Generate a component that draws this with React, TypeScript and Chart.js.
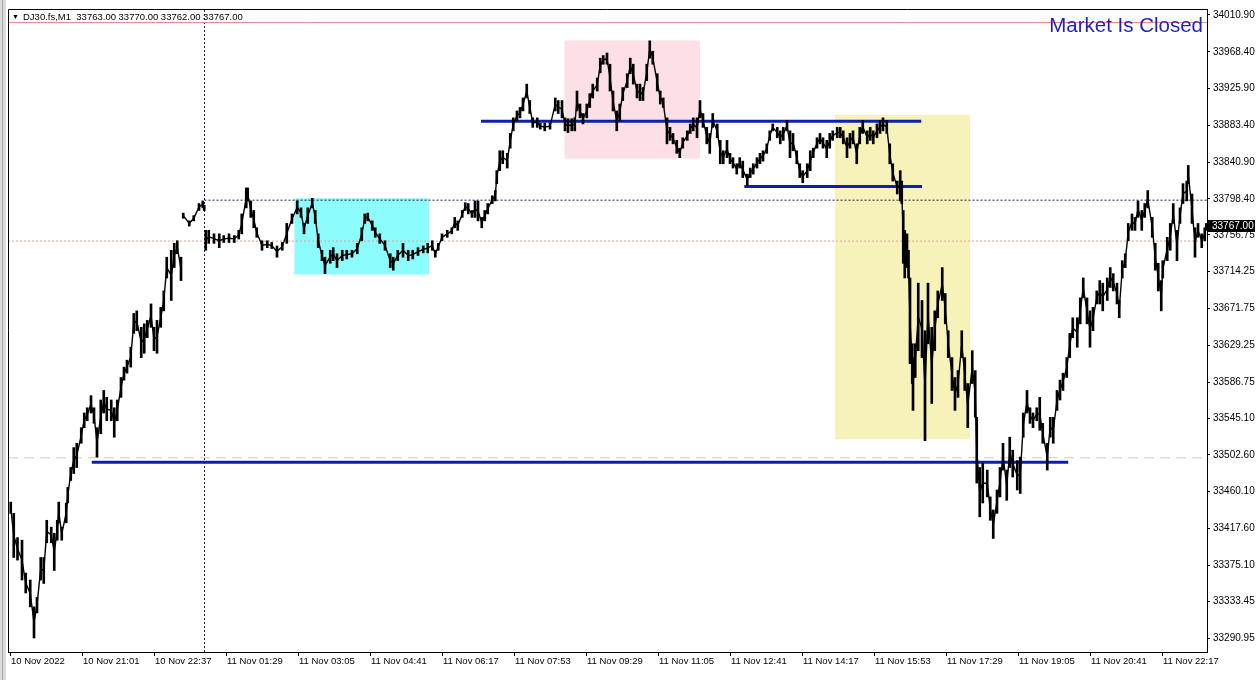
import React, { useEffect, useRef } from "react";
import { Chart, registerables } from "chart.js";

Chart.register(...registerables);

const W = 1259;
const H = 680;

// ---- header / text ----
const symbolLine = "DJ30.fs,M1  33763.00 33770.00 33762.00 33767.00";
const statusText = "Market Is Closed";
const lastPrice = 33767.0;

// ---- axes ----
const xTickBars = [0, 96, 192, 288, 384, 480, 576, 672, 768, 864, 960, 1056, 1152, 1248, 1344, 1440, 1536];
const xTickLabels = [
  "10 Nov 2022", "10 Nov 21:01", "10 Nov 22:37", "11 Nov 01:29", "11 Nov 03:05", "11 Nov 04:41",
  "11 Nov 06:17", "11 Nov 07:53", "11 Nov 09:29", "11 Nov 11:05", "11 Nov 12:41", "11 Nov 14:17",
  "11 Nov 15:53", "11 Nov 17:29", "11 Nov 19:05", "11 Nov 20:41", "11 Nov 22:17",
];
const yTickValues = [
  34010.9, 33968.4, 33925.9, 33883.4, 33840.9, 33798.4, 33756.75, 33714.25, 33671.75,
  33629.25, 33586.75, 33545.1, 33502.6, 33460.1, 33417.6, 33375.1, 33333.45, 33290.95,
];
const xMin = -2.667;
const xMax = 1596;
const yMin = 33274.8;
const yMax = 34017.8;

// ---- price bars (M1 bar index, high, low) ----
const barIndex = [
  1, 5, 10, 16, 21, 27, 32, 36, 41, 45,
  49, 55, 59, 63, 65, 69, 75, 77, 81, 85,
  89, 95, 99, 103, 108, 112, 116, 121, 125, 129,
  135, 139, 143, 148, 152, 156, 161, 165, 169, 175,
  179, 183, 188, 192, 196, 201, 205, 209, 215, 219,
  223, 228, 231, 239, 245, 252, 257, 259, 261, 265,
  272, 279, 285, 292, 299, 305, 309, 315, 317, 321,
  325, 329, 336, 343, 349, 356, 363, 369, 376, 383,
  388, 392, 397, 403, 407, 411, 416, 420, 427, 431,
  436, 443, 449, 456, 463, 469, 473, 477, 483, 487,
  493, 500, 507, 511, 517, 524, 531, 537, 544, 551,
  557, 563, 567, 571, 576, 583, 589, 593, 597, 603,
  607, 611, 616, 620, 624, 629, 633, 637, 643, 647,
  649, 653, 657, 663, 667, 671, 676, 680, 684, 689,
  693, 697, 703, 707, 713, 720, 727, 731, 736, 740,
  744, 749, 753, 756, 760, 764, 769, 773, 777, 783,
  787, 791, 796, 800, 804, 809, 813, 817, 823, 827,
  831, 836, 840, 844, 849, 853, 857, 863, 867, 871,
  876, 880, 884, 889, 893, 897, 903, 907, 911, 916,
  920, 924, 929, 933, 937, 943, 947, 951, 956, 960,
  964, 969, 973, 977, 983, 987, 991, 996, 1000, 1004,
  1009, 1013, 1017, 1023, 1027, 1031, 1036, 1040, 1044, 1049,
  1053, 1057, 1063, 1067, 1071, 1076, 1080, 1084, 1089, 1093,
  1097, 1103, 1107, 1111, 1116, 1120, 1124, 1129, 1133, 1137,
  1143, 1147, 1151, 1156, 1160, 1164, 1169, 1173, 1177, 1183,
  1187, 1189, 1191, 1193, 1196, 1198, 1200, 1203, 1204, 1207,
  1211, 1216, 1220, 1224, 1229, 1233, 1237, 1243, 1247, 1251,
  1256, 1260, 1264, 1269, 1273, 1277, 1283, 1287, 1289, 1293,
  1297, 1303, 1307, 1311, 1316, 1320, 1324, 1329, 1333, 1337,
  1343, 1347, 1351, 1356, 1360, 1364, 1369, 1373, 1377, 1383,
  1387, 1391, 1396, 1400, 1404, 1409, 1413, 1417, 1423, 1427,
  1431, 1436, 1440, 1444, 1449, 1453, 1457, 1463, 1467, 1471,
  1476, 1479, 1483, 1487, 1491, 1496, 1500, 1504, 1509, 1513,
  1517, 1523, 1527, 1531, 1535, 1537, 1543, 1547, 1551, 1556,
  1560, 1564, 1569, 1571, 1576, 1580, 1584, 1589, 1593, 1595,
];
const barHigh = [
  33448, 33435, 33407, 33404, 33366, 33358, 33327, 33338, 33384, 33384,
  33427, 33419, 33412, 33427, 33448, 33419, 33447, 33465, 33488, 33511,
  33516, 33534, 33551, 33557, 33571, 33557, 33534, 33566, 33577, 33569,
  33566, 33557, 33566, 33592, 33604, 33612, 33627, 33666, 33669, 33650,
  33654, 33658, 33677, 33650, 33658, 33673, 33692, 33731, 33739, 33747,
  33750, 33731, 33782, 33773, 33779, 33793, 33796, 33791, 33762, 33762,
  33758, 33758, 33756, 33758, 33756, 33762, 33781, 33811, 33811, 33796,
  33785, 33765, 33750, 33750, 33748, 33744, 33748, 33770, 33781, 33796,
  33788, 33770, 33788, 33799, 33785, 33758, 33739, 33731, 33739, 33742,
  33735, 33739, 33739, 33739, 33747, 33765, 33781, 33782, 33773, 33765,
  33758, 33750, 33735, 33731, 33739, 33747, 33739, 33739, 33742, 33744,
  33747, 33750, 33739, 33747, 33758, 33762, 33765, 33777, 33773, 33785,
  33794, 33793, 33785, 33796, 33796, 33777, 33785, 33793, 33802, 33808,
  33831, 33854, 33854, 33851, 33874, 33892, 33900, 33904, 33915, 33931,
  33912, 33892, 33892, 33886, 33886, 33886, 33915, 33912, 33912, 33892,
  33891, 33891, 33892, 33923, 33908, 33897, 33908, 33920, 33931, 33938,
  33961, 33964, 33967, 33954, 33923, 33900, 33908, 33927, 33943, 33961,
  33954, 33931, 33931, 33927, 33954, 33981, 33969, 33943, 33923, 33915,
  33892, 33881, 33874, 33866, 33857, 33869, 33877, 33885, 33892, 33892,
  33912, 33897, 33881, 33874, 33897, 33885, 33866, 33854, 33866, 33851,
  33846, 33839, 33846, 33842, 33827, 33834, 33839, 33846, 33851, 33854,
  33862, 33877, 33885, 33881, 33877, 33881, 33889, 33877, 33874, 33854,
  33839, 33831, 33839, 33854, 33857, 33869, 33874, 33869, 33866, 33874,
  33877, 33881, 33881, 33877, 33869, 33874, 33877, 33862, 33881, 33889,
  33877, 33881, 33877, 33885, 33889, 33892, 33889, 33862, 33839, 33819,
  33831, 33819, 33785, 33762, 33758, 33739, 33707, 33631, 33615, 33631,
  33701, 33681, 33646, 33701, 33650, 33669, 33692, 33719, 33689, 33646,
  33615, 33592, 33600, 33646, 33615, 33585, 33623, 33600, 33546, 33488,
  33493, 33485, 33454, 33439, 33462, 33488, 33516, 33485, 33523, 33508,
  33496, 33500, 33551, 33577, 33557, 33551, 33557, 33569, 33539, 33516,
  33546, 33546, 33577, 33589, 33597, 33615, 33643, 33661, 33661, 33684,
  33707, 33684, 33669, 33673, 33692, 33704, 33701, 33707, 33719, 33712,
  33701, 33681, 33727, 33735, 33770, 33781, 33777, 33796, 33785, 33793,
  33808, 33777, 33747, 33724, 33704, 33727, 33754, 33770, 33793, 33762,
  33788, 33816, 33819, 33837, 33804, 33765, 33770, 33758, 33765, 33770,
];
const barLow = [
  33435, 33384, 33381, 33358, 33343, 33327, 33291, 33320, 33358, 33354,
  33401, 33401, 33369, 33404, 33424, 33404, 33424, 33447, 33473, 33481,
  33488, 33516, 33534, 33542, 33551, 33539, 33500, 33527, 33551, 33542,
  33542, 33523, 33542, 33569, 33589, 33597, 33604, 33643, 33646, 33615,
  33620, 33638, 33650, 33623, 33620, 33650, 33669, 33707, 33681, 33719,
  33735, 33704, 33776, 33767, 33773, 33785, 33788, 33785, 33739, 33747,
  33747, 33742, 33748, 33748, 33748, 33752, 33758, 33788, 33796, 33777,
  33765, 33754, 33739, 33742, 33741, 33731, 33739, 33747, 33770, 33781,
  33777, 33758, 33770, 33788, 33770, 33742, 33727, 33712, 33724, 33727,
  33719, 33727, 33729, 33731, 33735, 33750, 33770, 33773, 33762, 33754,
  33747, 33739, 33719, 33716, 33727, 33731, 33727, 33729, 33733, 33736,
  33736, 33739, 33731, 33739, 33750, 33754, 33758, 33765, 33762, 33777,
  33785, 33781, 33777, 33777, 33773, 33765, 33773, 33781, 33793, 33796,
  33816, 33831, 33839, 33834, 33857, 33877, 33889, 33892, 33900, 33915,
  33897, 33881, 33881, 33879, 33877, 33879, 33900, 33897, 33892, 33877,
  33875, 33877, 33877, 33900, 33892, 33885, 33892, 33904, 33915, 33923,
  33944, 33954, 33954, 33923, 33900, 33877, 33889, 33912, 33927, 33943,
  33931, 33915, 33912, 33912, 33935, 33961, 33954, 33923, 33908, 33904,
  33862, 33866, 33862, 33851, 33846, 33857, 33866, 33874, 33877, 33869,
  33892, 33881, 33862, 33851, 33881, 33869, 33839, 33839, 33846, 33839,
  33834, 33827, 33834, 33823, 33814, 33823, 33827, 33834, 33839, 33842,
  33851, 33866, 33877, 33869, 33862, 33866, 33877, 33846, 33854, 33839,
  33823, 33817, 33823, 33831, 33846, 33857, 33862, 33857, 33846, 33857,
  33866, 33869, 33869, 33862, 33846, 33857, 33862, 33839, 33862, 33874,
  33862, 33866, 33862, 33869, 33874, 33877, 33874, 33839, 33819, 33804,
  33796, 33793, 33724, 33707, 33719, 33707, 33608, 33585, 33554, 33592,
  33623, 33615, 33519, 33631, 33562, 33623, 33661, 33681, 33654, 33615,
  33577, 33554, 33569, 33615, 33577, 33534, 33585, 33546, 33470, 33431,
  33447, 33454, 33427, 33406, 33435, 33454, 33485, 33450, 33488, 33477,
  33462, 33458, 33523, 33551, 33539, 33534, 33542, 33531, 33516, 33485,
  33523, 33516, 33554, 33566, 33577, 33592, 33615, 33638, 33627, 33654,
  33684, 33654, 33627, 33646, 33677, 33677, 33669, 33681, 33696, 33692,
  33677, 33661, 33707, 33719, 33750, 33762, 33762, 33777, 33762, 33777,
  33788, 33754, 33716, 33692, 33669, 33707, 33727, 33739, 33770, 33727,
  33770, 33793, 33796, 33816, 33770, 33731, 33754, 33742, 33750, 33762,
];
// first bars after session gaps (no connection drawn across)
const gapStarts = [231, 261];

// ---- blue trend levels ----
const levelPrice = [33494.0, 33888.0, 33812.8];
const levelFrom = [109, 628, 979];
const levelTo = [1411, 1215, 1216];

// ---- rectangles ----
const zoneFrom = [379, 739, 1100];
const zoneTo = [559, 920, 1280];
const zoneTop = [33799.2, 33981.5, 33895.5];
const zoneBottom = [33710.9, 33845.1, 33520.5];
const zoneColors = ["#8cfcfc", "#fde0e5", "#f6f2ba"];

// ---- reference lines ----
const redLevel = 34002.2;
const dottedLevel = 33749.6;
const dashedLevel = 33499.2;
const crossBar = 259.33;
const crossPrice = 33796.9;

const FONT = '"Liberation Sans", "DejaVu Sans", Arial, sans-serif';

export default function App() {
  const ref = useRef<HTMLCanvasElement | null>(null);

  useEffect(() => {
    const canvas = ref.current;
    if (!canvas) return;

    const bars = barIndex.map((b, i) => ({ x: b, y: [barLow[i], barHigh[i]] }));
    const mids: any[] = [];
    barIndex.forEach((b, i) => {
      if (gapStarts.includes(b)) mids.push({ x: b - 1, y: null });
      mids.push({ x: b, y: (barHigh[i] + barLow[i]) / 2 });
    });

    const zoneSets = zoneFrom.map((f, i) => ({
      type: "line" as const,
      data: [
        { x: f, y: zoneTop[i] },
        { x: zoneTo[i], y: zoneTop[i] },
      ],
      fill: { value: zoneBottom[i] },
      backgroundColor: zoneColors[i],
      borderWidth: 0,
      borderColor: "rgba(0,0,0,0)",
      pointRadius: 0,
      order: 10,
    }));

    const hline = (price: number, from: number, to: number, color: string, dash: number[], width = 1, order = 8) => ({
      type: "line" as const,
      data: [
        { x: from, y: price },
        { x: to, y: price },
      ],
      borderColor: color,
      borderWidth: width,
      borderDash: dash,
      pointRadius: 0,
      fill: false,
      order,
    });

    const levelSets = levelPrice.map((p, i) => hline(p, levelFrom[i], levelTo[i], "#0b20b0", [], 3, 5));

    const decor = {
      id: "decor",
      beforeDraw(chart: any) {
        const ctx = chart.ctx;
        ctx.save();
        ctx.fillStyle = "#ffffff";
        ctx.fillRect(0, 0, W, H);
        ctx.fillStyle = "#dcdcdc";
        ctx.fillRect(0, 0, 6, H);
        ctx.fillStyle = "#a8a8a8";
        ctx.fillRect(2, 0, 1, H);
        ctx.restore();
      },
      afterDraw(chart: any) {
        const ctx = chart.ctx;
        const a = chart.chartArea;
        const y = chart.scales.y;
        ctx.save();
        // plot frame (left + top)
        ctx.strokeStyle = "#000";
        ctx.lineWidth = 1;
        ctx.beginPath();
        ctx.moveTo(a.left + 0.5, a.bottom);
        ctx.lineTo(a.left + 0.5, a.top + 0.5);
        ctx.lineTo(a.right, a.top + 0.5);
        ctx.stroke();
        // header
        ctx.fillStyle = "#000";
        ctx.textBaseline = "alphabetic";
        ctx.textAlign = "left";
        ctx.font = `7px ${FONT}`;
        ctx.fillText("▼", 12, 19);
        ctx.font = `9.5px ${FONT}`;
        ctx.fillText(symbolLine, 23, 20);
        // status text
        ctx.font = `20.5px ${FONT}`;
        ctx.fillStyle = "#1f1fc6";
        ctx.textAlign = "right";
        ctx.fillText(statusText, 1203, 32);
        // current price label
        const py = Math.round(y.getPixelForValue(lastPrice));
        ctx.fillStyle = "#000";
        ctx.fillRect(a.right + 1, py - 6, 47, 12);
        ctx.fillStyle = "#fff";
        ctx.textAlign = "left";
        ctx.textBaseline = "middle";
        ctx.font = `10px ${FONT}`;
        ctx.fillText(lastPrice.toFixed(2), a.right + 5, py + 0.5);
        ctx.restore();
      },
    };

    const chart = new Chart(canvas, {
      type: "line",
      data: {
        datasets: [
          ...zoneSets,
          hline(redLevel, xMin, xMax, "#ee8c8c", []),
          hline(dottedLevel, xMin, xMax, "#d8a49c", [2, 2]),
          hline(dashedLevel, xMin, xMax, "#e4c0b8", [10, 6]),
          hline(crossPrice, crossBar, xMax, "#1c1c50", [2, 2]),
          {
            type: "line",
            data: [
              { x: crossBar, y: yMin },
              { x: crossBar, y: yMax },
            ],
            borderColor: "#1c1c50",
            borderWidth: 1,
            borderDash: [2, 2],
            pointRadius: 0,
            fill: false,
            order: 8,
          },
          ...levelSets,
          {
            type: "bar",
            data: bars as any,
            backgroundColor: "#000",
            borderWidth: 0,
            barThickness: 2,
            grouped: false,
            order: 2,
          } as any,
          {
            type: "line",
            data: mids,
            borderColor: "#000",
            borderWidth: 1.4,
            pointRadius: 0,
            fill: false,
            spanGaps: false,
            order: 1,
          },
        ] as any,
      },
      options: {
        responsive: false,
        animation: false,
        devicePixelRatio: 1,
        layout: { padding: { left: 8, top: 8, right: 0, bottom: 0 } },
        plugins: {
          legend: { display: false },
          tooltip: { enabled: false },
          title: { display: false },
        },
        elements: { point: { radius: 0 }, line: { tension: 0 } },
        scales: {
          x: {
            type: "linear",
            position: "bottom",
            min: xMin,
            max: xMax,
            offset: false,
            afterBuildTicks: (s: any) => {
              s.ticks = xTickBars.map((v) => ({ value: v }));
            },
            afterFit: (s: any) => {
              s.height = 28;
            },
            grid: { drawOnChartArea: false, drawTicks: true, tickLength: 4, color: "#000", offset: false },
            border: { display: true, color: "#000", width: 1 },
            ticks: {
              autoSkip: false,
              maxRotation: 0,
              minRotation: 0,
              align: "start",
              labelOffset: 1,
              padding: 0,
              color: "#000",
              font: { family: FONT, size: 9.5 },
              callback: (v: any) => {
                const k = xTickBars.indexOf(Number(v));
                return k >= 0 ? xTickLabels[k] : "";
              },
            },
          },
          y: {
            type: "linear",
            position: "right",
            min: yMin,
            max: yMax,
            afterBuildTicks: (s: any) => {
              s.ticks = yTickValues.map((v) => ({ value: v }));
            },
            afterFit: (s: any) => {
              s.width = 52;
            },
            grid: { drawOnChartArea: false, drawTicks: true, tickLength: 3, color: "#000" },
            border: { display: true, color: "#000", width: 1 },
            ticks: {
              autoSkip: false,
              padding: 3,
              color: "#000",
              font: { family: FONT, size: 10 },
              callback: (v: any) => Number(v).toFixed(2),
            },
          },
        },
      } as any,
      plugins: [decor],
    });

    return () => chart.destroy();
  }, []);

  return (
    <div style={{ position: "fixed", left: 0, top: 0, width: W, height: H, background: "#fff" }}>
      <canvas ref={ref} width={W} height={H} style={{ display: "block", width: W, height: H }} />
    </div>
  );
}
